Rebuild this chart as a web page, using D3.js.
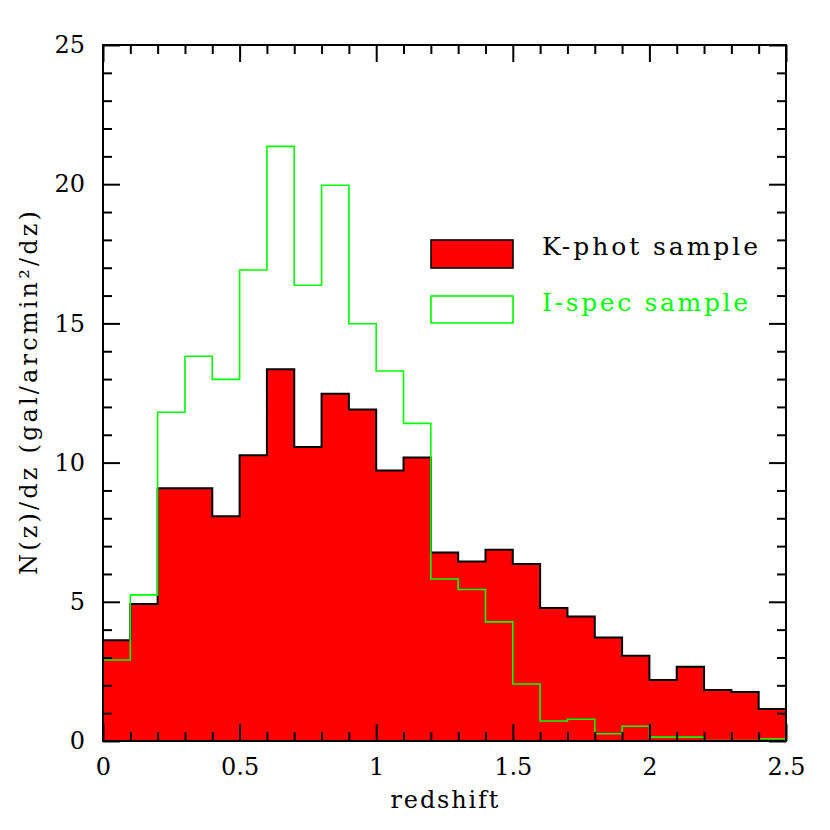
<!DOCTYPE html>
<html><head><meta charset="utf-8">
<script src="https://cdn.jsdelivr.net/npm/d3@7"></script>
<style>body{margin:0;background:#fff}svg{display:block}</style>
</head><body>
<svg id="c" width="830" height="830"></svg>
<script>
// bin edges (redshift)
const binEdges = [0,0.1,0.2,0.3,0.4,0.5,0.6,0.7,0.8,0.9,1.0,1.1,1.2,1.3,1.4,1.5,1.6,1.7,1.8,1.9,2.0,2.1,2.2,2.3,2.4,2.5];
// K-phot sample N(z)/dz
const kphot = [3.62,4.92,9.08,9.08,8.07,10.26,13.35,10.56,12.47,11.91,9.72,10.18,6.77,6.45,6.87,6.36,4.78,4.47,3.72,3.06,2.19,2.67,1.83,1.76,1.15];
// I-spec sample N(z)/dz
const ispec = [2.91,5.25,11.81,13.82,12.99,16.92,21.36,16.37,19.96,14.99,13.29,11.41,5.82,5.44,4.28,2.05,0.72,0.78,0.26,0.53,0.14,0.14,0.02,0.02,0.08];
// ticks
const xMajor = [0,0.5,1,1.5,2,2.5];
const xMinor = [0.1,0.2,0.3,0.4,0.6,0.7,0.8,0.9,1.1,1.2,1.3,1.4,1.6,1.7,1.8,1.9,2.1,2.2,2.3,2.4];
const xTickLabels = ["0","0.5","1","1.5","2","2.5"];
const yMajor = [0,5,10,15,20,25];
const yMinor = [1,2,3,4,6,7,8,9,11,12,13,14,16,17,18,19,21,22,23,24];
const yTickLabels = ["0","5","10","15","20","25"];
const legendLabels = ["K-phot sample","I-spec sample"];
const xTitle = "redshift";
const yTitle = "N(z)/dz (gal/arcmin²/dz)";

const svg = d3.select("#c");
const FONT = "DejaVu Serif";
const x = d3.scaleLinear().domain([0,2.5]).range([103,786]);
const y = d3.scaleLinear().domain([0,25]).range([741,45]);

function stepPath(vals){
  const p = d3.path();
  p.moveTo(x(binEdges[0]), y(0));
  vals.forEach((v,i)=>{
    p.lineTo(x(binEdges[i]), y(v));
    p.lineTo(x(binEdges[i+1]), y(v));
  });
  p.lineTo(x(binEdges[binEdges.length-1]), y(0));
  return p.toString();
}

svg.append("path").attr("d", stepPath(kphot))
  .attr("fill","#ff0000").attr("stroke","#000").attr("stroke-width",2).attr("stroke-linejoin","miter");
svg.append("path").attr("d", stepPath(ispec))
  .attr("fill","none").attr("stroke","#00ff00").attr("stroke-width",1.6);

function styleAxis(g){
  g.select(".domain").remove();
  g.selectAll("line").attr("stroke","#000").attr("stroke-width",2);
  g.selectAll("text").attr("font-family",FONT).attr("font-size",24).attr("fill","#000");
}
// minor ticks
svg.append("g").attr("transform",`translate(0,${y(0)})`)
  .call(d3.axisBottom(x).tickValues(xMinor).tickSize(-9).tickFormat("")).call(styleAxis);
svg.append("g").attr("transform",`translate(0,${y(25)})`)
  .call(d3.axisTop(x).tickValues(xMinor).tickSize(-9).tickFormat("")).call(styleAxis);
svg.append("g").attr("transform",`translate(${x(0)},0)`)
  .call(d3.axisLeft(y).tickValues(yMinor).tickSize(-9).tickFormat("")).call(styleAxis);
svg.append("g").attr("transform",`translate(${x(2.5)},0)`)
  .call(d3.axisRight(y).tickValues(yMinor).tickSize(-9).tickFormat("")).call(styleAxis);
// major ticks
svg.append("g").attr("transform",`translate(0,${y(0)})`)
  .call(d3.axisBottom(x).tickValues(xMajor).tickSize(-17).tickPadding(17).tickFormat((d,i)=>xTickLabels[i])).call(styleAxis);
svg.append("g").attr("transform",`translate(0,${y(25)})`)
  .call(d3.axisTop(x).tickValues(xMajor).tickSize(-17).tickFormat("")).call(styleAxis);
svg.append("g").attr("transform",`translate(${x(0)},0)`)
  .call(d3.axisLeft(y).tickValues(yMajor).tickSize(-17).tickPadding(18).tickFormat((d,i)=>yTickLabels[i])).call(styleAxis);
svg.append("g").attr("transform",`translate(${x(2.5)},0)`)
  .call(d3.axisRight(y).tickValues(yMajor).tickSize(-17).tickFormat("")).call(styleAxis);

// frame
svg.append("rect").attr("x",x(0)).attr("y",y(25)).attr("width",x(2.5)-x(0)).attr("height",y(0)-y(25))
  .attr("fill","none").attr("stroke","#000").attr("stroke-width",2);

// axis titles
svg.append("text").attr("x",(x(0)+x(2.5))/2).attr("y",808).attr("text-anchor","middle")
  .attr("font-family",FONT).attr("font-size",24).attr("textLength",108).attr("lengthAdjust","spacing")
  .text(xTitle);
svg.append("text").attr("transform","translate(37,393) rotate(-90)").attr("text-anchor","middle")
  .attr("font-family",FONT).attr("font-size",24).attr("textLength",364).attr("lengthAdjust","spacing")
  .text(yTitle);

// legend
const leg = svg.append("g");
leg.append("rect").attr("x",431).attr("y",240).attr("width",82).attr("height",28)
  .attr("fill","#ff0000").attr("stroke","#000").attr("stroke-width",1.6);
leg.append("rect").attr("x",431).attr("y",296).attr("width",82).attr("height",27)
  .attr("fill","none").attr("stroke","#00ff00").attr("stroke-width",1.6);
leg.append("text").attr("x",542).attr("y",255).attr("font-family",FONT).attr("font-size",25)
  .attr("textLength",216).attr("lengthAdjust","spacing").attr("fill","#000").text(legendLabels[0]);
leg.append("text").attr("x",542).attr("y",311).attr("font-family",FONT).attr("font-size",25)
  .attr("textLength",206).attr("lengthAdjust","spacing").attr("fill","#00ff00").text(legendLabels[1]);
</script>
</body></html>
